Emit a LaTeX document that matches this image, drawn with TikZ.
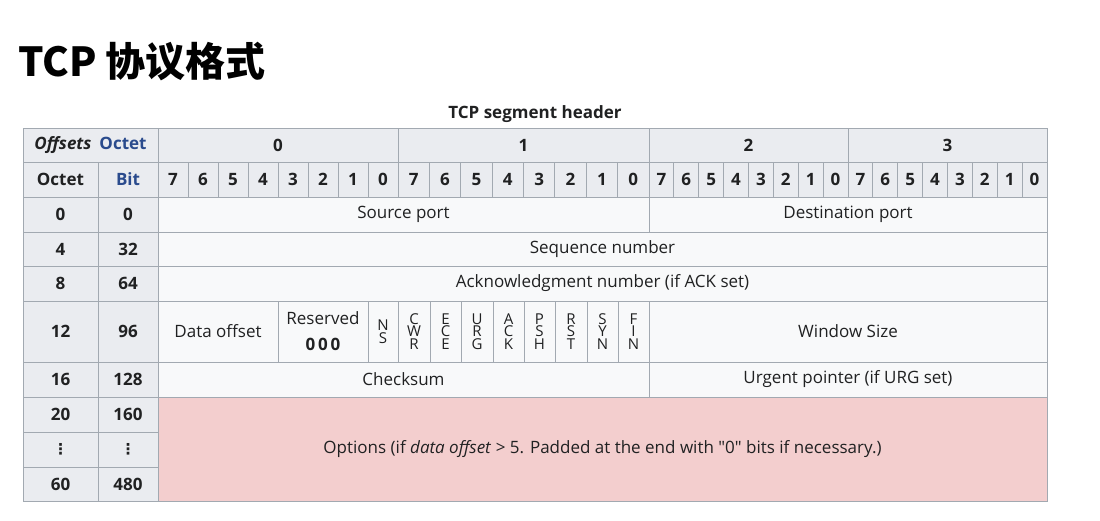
\documentclass[tikz,border=0pt]{standalone}
\usepackage{fontspec}
\setmainfont{Open Sans}
\newfontfamily\cjk{Noto Sans CJK SC}
\newfontfamily\dvs{DejaVu Sans}
\definecolor{hdbg}{HTML}{EAECF0}
\definecolor{bdbg}{HTML}{F8F9FA}
\definecolor{gridc}{HTML}{A2A9B1}
\definecolor{optbg}{HTML}{F3CECE}
\definecolor{lnk}{HTML}{2A4B8D}
\definecolor{txt}{HTML}{202122}
% style, name, x1, y1, x2, y2, text
\newcommand{\tcell}[7]{%
  \pgfmathsetmacro\cw{#5-#3}\pgfmathsetmacro\ch{#6-#4}%
  \node[#1, minimum width=\cw pt, minimum height=\ch pt] (#2) at (#3,-#4) {#7};}
\begin{document}
\begin{tikzpicture}[x=1pt,y=1pt,
  cellbase/.style={draw=gridc, line width=0.9pt, inner sep=0pt, outer sep=0pt,
    anchor=north west, text=txt, align=center, font=\fontsize{17}{20}\selectfont},
  hd/.style={cellbase, fill=hdbg, font=\fontsize{17}{20}\selectfont\bfseries},
  bd/.style={cellbase, fill=bdbg},
  opt/.style={cellbase, fill=optbg},
  flag/.style={bd, font=\fontsize{15}{12.5}\selectfont}]
\useasboundingbox (0,0) rectangle (1100,-520);
\fill[white] (0,0) rectangle (1100,-520);

\node[anchor=base west, inner sep=0pt, font=\cjk\bfseries\fontsize{40}{45}\selectfont] (title) at (18,-76) {TCP 协议格式};
\node[inner sep=0pt, text=txt, font=\fontsize{17}{20}\selectfont\bfseries] (caption) at (535,-114) {TCP segment header};

% header rows
\tcell{hd}{offs}{23}{128}{158}{162}{\textit{Offsets}\hspace{8pt}\textcolor{lnk}{Octet}}
\tcell{hd}{octl}{23}{162}{98}{197}{Octet}
\tcell{hd}{bitl}{98}{162}{158}{197}{\textcolor{lnk}{Bit}}
\tcell{hd}{oct0}{158}{128}{398}{162}{0}
\tcell{hd}{oct1}{398}{128}{649}{162}{1}
\tcell{hd}{oct2}{649}{128}{848}{162}{2}
\tcell{hd}{oct3}{848}{128}{1047}{162}{3}
\foreach \o/\xs/\w in {0/158/30, 1/398/31.375, 2/649/24.875, 3/848/24.875} {
  \foreach \i in {0,...,7} {
    \pgfmathsetmacro\xa{\xs+\w*\i}
    \pgfmathsetmacro\xb{\xa+\w}
    \pgfmathtruncatemacro\lab{7-\i}
    \tcell{hd}{bit\o-\i}{\xa}{162}{\xb}{197}{\lab}
  }
}

% row labels
\tcell{hd}{r0a}{23}{197}{98}{232}{0}
\tcell{hd}{r0b}{98}{197}{158}{232}{0}
\tcell{hd}{r1a}{23}{232}{98}{266}{4}
\tcell{hd}{r1b}{98}{232}{158}{266}{32}
\tcell{hd}{r2a}{23}{266}{98}{301}{8}
\tcell{hd}{r2b}{98}{266}{158}{301}{64}
\tcell{hd}{r3a}{23}{301}{98}{362}{12}
\tcell{hd}{r3b}{98}{301}{158}{362}{96}
\tcell{hd}{r4a}{23}{362}{98}{397}{16}
\tcell{hd}{r4b}{98}{362}{158}{397}{128}
\tcell{hd}{r5a}{23}{397}{98}{432}{20}
\tcell{hd}{r5b}{98}{397}{158}{432}{160}
\tcell{hd}{r6a}{23}{432}{98}{467}{{\dvs\fontsize{15}{15}\selectfont ⋮}}
\tcell{hd}{r6b}{98}{432}{158}{467}{{\dvs\fontsize{15}{15}\selectfont ⋮}}
\tcell{hd}{r7a}{23}{467}{98}{501}{60}
\tcell{hd}{r7b}{98}{467}{158}{501}{480}

% body
\tcell{bd}{srcport}{158}{197}{649}{232}{Source port}
\tcell{bd}{dstport}{649}{197}{1047}{232}{Destination port}
\tcell{bd}{seq}{158}{232}{1047}{266}{Sequence number}
\tcell{bd}{ack}{158}{266}{1047}{301}{Acknowledgment number (if ACK set)}
\tcell{bd}{doff}{158}{301}{278}{362}{Data offset}
\tcell{bd}{resv}{278}{301}{368}{362}{Reserved\\[6pt]\textbf{0\,0\,0}}
\tcell{flag}{fns}{368}{301}{398}{362}{N\\S}
\tcell{flag}{fcwr}{398}{301}{430}{362}{C\\W\\R}
\tcell{flag}{fece}{430}{301}{461}{362}{E\\C\\E}
\tcell{flag}{furg}{461}{301}{493}{362}{U\\R\\G}
\tcell{flag}{fack}{493}{301}{524}{362}{A\\C\\K}
\tcell{flag}{fpsh}{524}{301}{555}{362}{P\\S\\H}
\tcell{flag}{frst}{555}{301}{587}{362}{R\\S\\T}
\tcell{flag}{fsyn}{587}{301}{618}{362}{S\\Y\\N}
\tcell{flag}{ffin}{618}{301}{649}{362}{F\\I\\N}
\tcell{bd}{win}{649}{301}{1047}{362}{Window Size}
\tcell{bd}{chk}{158}{362}{649}{397}{Checksum}
\tcell{bd}{urg}{649}{362}{1047}{397}{Urgent pointer (if URG set)}
\tcell{opt}{options}{158}{397}{1047}{501}{Options (if \textit{data offset} > 5. Padded at the end with \textquotedbl 0\textquotedbl{} bits if necessary.)}
\end{tikzpicture}
\end{document}
